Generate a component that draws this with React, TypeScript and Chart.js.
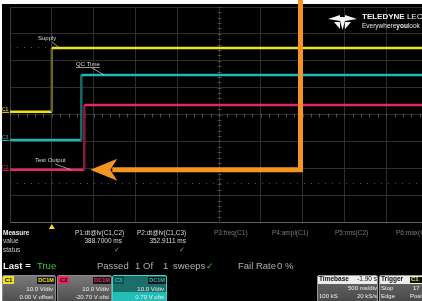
import React, { useEffect, useRef } from "react";
import { Chart, registerables } from "chart.js";
Chart.register(...registerables);

// ---- data (screen volts, seconds) ----
const seriesNames = ["Supply", "QC Time", "Test Output"];
const channelIds = ["C1", "C3", "C2"];
const traceColors = ["#f2e41c", "#1fb9b3", "#e8275e"];
const edgeColors = ["#6b6420", "#176a66", "#8a1a3c"];
const riseTimesS = [0, 0.3529, 0.3887];
const lowLevelsV = [1, -9.5, -20.6];
const highLevelsV = [24.7, 14.7, 3.5];
const timeStartS = -0.5;
const timeEndS = 4.428;
const secondsPerDiv = 0.5;
const voltsPerDiv = 10;
const screenMinV = -40;
const screenMaxV = 40;

const measureNames = ["P1:dt@lv(C1,C2)", "P2:dt@lv(C1,C3)", "P3:freq(C1)", "P4:ampl(C1)", "P5:rms(C2)", "P6:max(C1)"];
const measureValues = ["388.7000 ms", "352.9111 ms"];
const channelLabels = ["C1", "C2", "C3"];
const channelScales = ["10.0 V/div", "10.0 V/div", "10.0 V/div"];
const channelOffsets = ["0.00 V offset", "-20.70 V ofst", "0.70 V ofst"];

const FONT = '"Liberation Sans Narrow", "Liberation Sans", Arial, sans-serif';

const decorPlugin = {
  id: "decor",
  beforeDatasetsDraw(chart: any) {
    const { ctx, chartArea: a, scales } = chart;
    const xs = scales.x, ys = scales.y;
    ctx.save();
    // dotted rows
    ctx.strokeStyle = "#5a5a5a";
    ctx.lineWidth = 1;
    ctx.setLineDash([1, 6]);
    [47, 183].forEach((py) => {
      ctx.beginPath();
      ctx.moveTo(a.left, py + 0.5);
      ctx.lineTo(a.right, py + 0.5);
      ctx.stroke();
    });
    ctx.setLineDash([]);
    // center cross ticks
    const cx = Math.round(xs.getPixelForValue(timeStartS + 5 * secondsPerDiv)) + 0.5;
    const cy = Math.round(ys.getPixelForValue(0)) + 0.5;
    ctx.strokeStyle = "#4a4a4a";
    for (let v = screenMinV; v <= screenMaxV; v += voltsPerDiv / 5) {
      const py = Math.round(ys.getPixelForValue(v)) + 0.5;
      ctx.beginPath();
      ctx.moveTo(cx - 2, py);
      ctx.lineTo(cx + 2, py);
      ctx.stroke();
    }
    for (let t = timeStartS; t <= timeEndS; t += secondsPerDiv / 5) {
      const px = Math.round(xs.getPixelForValue(t)) + 0.5;
      ctx.beginPath();
      ctx.moveTo(px, cy - 2);
      ctx.lineTo(px, cy + 2);
      ctx.stroke();
    }
    ctx.restore();
  },
  afterDatasetsDraw(chart: any) {
    const { ctx, chartArea: a, scales } = chart;
    const xs = scales.x, ys = scales.y;
    ctx.save();
    // trigger marker
    const trigX = xs.getPixelForValue(riseTimesS[0]);
    ctx.fillStyle = traceColors[0];
    ctx.beginPath();
    ctx.moveTo(trigX, a.bottom + 2);
    ctx.lineTo(trigX + 3, a.bottom + 7);
    ctx.lineTo(trigX - 3, a.bottom + 7);
    ctx.closePath();
    ctx.fill();
    // channel markers at left
    channelIds.forEach((id, i) => {
      const py = ys.getPixelForValue(lowLevelsV[i]);
      ctx.fillStyle = traceColors[i];
      ctx.font = `5px ${FONT}`;
      ctx.textBaseline = "bottom";
      ctx.textAlign = "left";
      ctx.fillText(id, 2, py);
      ctx.fillRect(2, py, 7, 1);
    });
    // annotations
    ctx.font = `6px ${FONT}`;
    ctx.fillStyle = "#d8d8d8";
    ctx.strokeStyle = "#bcbcbc";
    ctx.lineWidth = 0.8;
    ctx.textBaseline = "middle";
    ctx.textAlign = "left";
    const ann = [
      { i: 0, tx: 38, ty: 38, lx0: 52, ly0: 42, dx: 8 },
      { i: 1, tx: 76, ty: 64, lx0: 92, ly0: 68, dx: 23 },
      { i: 2, tx: 35, ty: 160, lx0: 55, ly0: 164, dx: -13, low: true },
    ];
    ann.forEach((n: any) => {
      ctx.fillText(seriesNames[n.i], n.tx, n.ty);
      const endX = xs.getPixelForValue(riseTimesS[n.i]) + n.dx;
      const endY = ys.getPixelForValue(n.low ? lowLevelsV[n.i] : highLevelsV[n.i]);
      ctx.beginPath();
      ctx.moveTo(n.lx0, n.ly0);
      ctx.lineTo(endX, endY);
      ctx.stroke();
    });
    // underline QC Time
    const w = ctx.measureText(seriesNames[1]).width;
    ctx.beginPath();
    ctx.moveTo(76, 67.5);
    ctx.lineTo(76 + w, 67.5);
    ctx.stroke();

    // orange arrow
    const ay = ys.getPixelForValue(lowLevelsV[2]);
    const tipX = xs.getPixelForValue(riseTimesS[2]) + 6;
    const vx = 300.5;
    ctx.strokeStyle = "#f39424";
    ctx.fillStyle = "#f39424";
    ctx.lineWidth = 5;
    ctx.lineJoin = "miter";
    ctx.beginPath();
    ctx.moveTo(vx, -5);
    ctx.lineTo(vx, ay);
    ctx.lineTo(tipX + 22, ay);
    ctx.stroke();
    ctx.beginPath();
    ctx.moveTo(tipX, ay);
    ctx.lineTo(tipX + 27, ay - 11);
    ctx.lineTo(tipX + 20, ay);
    ctx.lineTo(tipX + 27, ay + 11);
    ctx.closePath();
    ctx.fill();

    // logo icon
    ctx.fillStyle = "#f4f4f4";
    const ox = 328, oy = 14;
    const tri = (pts: number[][]) => {
      ctx.beginPath();
      ctx.moveTo(ox + pts[0][0], oy + pts[0][1]);
      for (let k = 1; k < pts.length; k++) ctx.lineTo(ox + pts[k][0], oy + pts[k][1]);
      ctx.closePath();
      ctx.fill();
    };
    tri([[0, 5], [12, 1], [12, 7]]);
    tri([[29, 5], [17, 1], [17, 7]]);
    tri([[11, 3], [18, 3], [14.5, 16]]);
    tri([[6, 8], [12, 8], [12, 15]]);
    tri([[23, 8], [17, 8], [17, 15]]);
    ctx.restore();
  },
};

function Txt(p: any) {
  const s: any = {
    position: "absolute",
    top: p.y - p.size / 2,
    fontSize: p.size,
    lineHeight: `${p.size}px`,
    height: p.size,
    color: p.color || "#ddd",
    fontWeight: p.bold ? "bold" : "normal",
    whiteSpace: "nowrap",
    fontFamily: p.family || FONT,
  };
  if (p.right !== undefined) s.right = 422 - p.right;
  else s.left = p.x;
  return <div style={s}>{p.children}</div>;
}

function ChannelBox(p: any) {
  const { left, width, i, active } = p;
  const colors = ["#f2e41c", "#e8275e", "#1fb9b3"];
  return (
    <div
      style={{
        position: "absolute",
        left,
        top: 275,
        width,
        height: 27,
        borderRadius: 2,
        border: active ? "1px solid #3fd6cf" : "1px solid #8a8a8a",
        boxSizing: "border-box",
        background: active
          ? "linear-gradient(#1c6e6b 0%, #1c6e6b 65%, #22bdb5 66%, #22bdb5 100%)"
          : "linear-gradient(#7a7a7a, #4e4e4e)",
        overflow: "hidden",
      }}
    >
      <div
        style={{
          position: "absolute", left: 0, top: 0, width: 11, height: 8,
          background: active ? "#0f4f4c" : colors[i], color: active ? colors[i] : "#000",
          fontSize: 6, lineHeight: "8px", fontWeight: "bold", fontFamily: FONT, textAlign: "center",
        }}
      >
        {channelLabels[i]}
      </div>
      <div
        style={{
          position: "absolute", right: 0, top: 1, width: 18, height: 7,
          background: "#151515", color: colors[i],
          fontSize: 5.5, lineHeight: "7px", fontWeight: "bold", fontFamily: FONT, textAlign: "center",
        }}
      >
        DC1M
      </div>
      <div style={{ position: "absolute", right: 2, top: 10, fontSize: 6, lineHeight: "6px", color: "#f0f0f0", fontFamily: FONT, whiteSpace: "nowrap" }}>
        {channelScales[i]}
      </div>
      <div style={{ position: "absolute", right: 2, top: 18, fontSize: 6, lineHeight: "6px", color: "#f0f0f0", fontFamily: FONT, whiteSpace: "nowrap" }}>
        {channelOffsets[i]}
      </div>
    </div>
  );
}

export default function App() {
  const ref = useRef<HTMLCanvasElement>(null);
  useEffect(() => {
    document.body.style.margin = "0";
    const datasets = seriesNames.map((name, i) => ({
      label: name,
      data: [
        { x: timeStartS, y: lowLevelsV[i] },
        { x: riseTimesS[i], y: lowLevelsV[i] },
        { x: riseTimesS[i], y: highLevelsV[i] },
        { x: timeEndS, y: highLevelsV[i] },
      ],
      borderColor: traceColors[i],
      borderWidth: 2.5,
      pointRadius: 0,
      tension: 0,
      segment: {
        borderColor: (c: any) => (c.p0.parsed.x === c.p1.parsed.x ? edgeColors[i] : traceColors[i]),
      },
    }));
    const chart = new Chart(ref.current!, {
      type: "line",
      data: { datasets },
      options: {
        responsive: false,
        animation: false,
        events: [],
        layout: { padding: { left: 10, top: 7, right: 0, bottom: 79 } },
        plugins: { legend: { display: false }, tooltip: { enabled: false }, title: { display: false } },
        scales: {
          x: {
            type: "linear",
            min: timeStartS,
            max: timeEndS,
            afterFit: (s: any) => { s.height = 0; },
            ticks: { display: false, stepSize: secondsPerDiv, includeBounds: false },
            grid: { color: "#2f2f2f", drawTicks: false, lineWidth: 1 },
            border: { display: true, color: "#606060" },
          },
          y: {
            type: "linear",
            min: screenMinV,
            max: screenMaxV,
            afterFit: (s: any) => { s.width = 0; },
            ticks: { display: false, stepSize: voltsPerDiv },
            grid: { color: "#2f2f2f", drawTicks: false, lineWidth: 1 },
            border: { display: true, color: "#3a3a3a" },
          },
        },
      } as any,
      plugins: [decorPlugin],
    });
    return () => chart.destroy();
  }, []);

  return (
    <div style={{ position: "fixed", left: 0, top: 0, width: 422, height: 301, background: "#fff", overflow: "hidden" }}>
      <div style={{ position: "absolute", left: 2, top: 4, width: 420, height: 297, background: "#000" }} />
      <canvas ref={ref} width={422} height={301} style={{ position: "absolute", left: 0, top: 0, width: 422, height: 301 }} />
      {/* logo text */}
      <Txt x={362} y={17} size={8} bold color="#f4f4f4">TELEDYNE <span style={{ fontWeight: "normal" }}>LECROY</span></Txt>
      <Txt x={362} y={26} size={6.5} color="#e8e8e8">Everywhere<b>you</b>look</Txt>
      {/* measure table */}
      <Txt x={3} y={233} size={6.5} bold color="#eee">Measure</Txt>
      <Txt x={3} y={241} size={6.5} color="#ccc">value</Txt>
      <Txt x={3} y={250} size={6.5} color="#ccc">status</Txt>
      <Txt x={75} y={233} size={6.5} color="#ddd">{measureNames[0]}</Txt>
      <Txt x={137} y={233} size={6.5} color="#ddd">{measureNames[1]}</Txt>
      <Txt x={214} y={233} size={6.5} color="#7a7a7a">{measureNames[2]}</Txt>
      <Txt x={272} y={233} size={6.5} color="#7a7a7a">{measureNames[3]}</Txt>
      <Txt x={335} y={233} size={6.5} color="#7a7a7a">{measureNames[4]}</Txt>
      <Txt x={396} y={233} size={6.5} color="#7a7a7a">{measureNames[5]}</Txt>
      <Txt right={122} y={241} size={6.5} color="#ddd">{measureValues[0]}</Txt>
      <Txt right={186} y={241} size={6.5} color="#ddd">{measureValues[1]}</Txt>
      <Txt x={114} y={250} size={7} color="#3cc43c" family="DejaVu Sans">✓</Txt>
      <Txt x={179} y={250} size={7} color="#3cc43c" family="DejaVu Sans">✓</Txt>
      {/* pass/fail row */}
      <Txt x={3} y={266} size={9.5} bold color="#f2f2f2">Last =</Txt>
      <Txt x={37} y={266} size={9.5} color="#35c435">True</Txt>
      <Txt x={97} y={266} size={9.5} color="#b0b0b0">Passed</Txt>
      <Txt x={135} y={266} size={9.5} color="#b0b0b0">1</Txt>
      <Txt x={143} y={266} size={9.5} color="#b0b0b0">Of</Txt>
      <Txt x={163} y={266} size={9.5} color="#b0b0b0">1</Txt>
      <Txt x={173} y={266} size={9.5} color="#b0b0b0">sweeps</Txt>
      <Txt x={206} y={266} size={9} color="#3cc43c" family="DejaVu Sans">✓</Txt>
      <Txt x={238} y={266} size={9.5} color="#b0b0b0">Fail Rate</Txt>
      <Txt x={277} y={266} size={9.5} color="#b0b0b0">0 %</Txt>
      {/* channel boxes */}
      <ChannelBox left={2} width={54} i={0} />
      <ChannelBox left={57} width={55} i={1} />
      <ChannelBox left={112} width={55} i={2} active />
      {/* timebase */}
      <div style={{ position: "absolute", left: 317, top: 275, width: 61, height: 27, background: "linear-gradient(#6a6a6a,#4a4a4a)", border: "1px solid #999", boxSizing: "border-box", borderRadius: 2, overflow: "hidden" }}>
        <div style={{ position: "absolute", left: 0, top: 0, right: 0, height: 8, background: "#ececec" }} />
      </div>
      <Txt x={319} y={279} size={6.5} bold color="#111">Timebase</Txt>
      <Txt right={377} y={279} size={6.5} color="#111">-1.90 s</Txt>
      <Txt right={377} y={288} size={6} color="#f0f0f0">500 ms/div</Txt>
      <Txt x={319} y={296} size={6} color="#f0f0f0">100 kS</Txt>
      <Txt right={377} y={296} size={6} color="#f0f0f0">20 kS/s</Txt>
      {/* trigger */}
      <div style={{ position: "absolute", left: 379, top: 275, width: 50, height: 27, background: "linear-gradient(#6a6a6a,#4a4a4a)", border: "1px solid #999", boxSizing: "border-box", borderRadius: 2, overflow: "hidden" }}>
        <div style={{ position: "absolute", left: 0, top: 0, right: 0, height: 8, background: "#ececec" }} />
        <div style={{ position: "absolute", left: 30, top: 1, width: 14, height: 6, background: "#111" }} />
      </div>
      <Txt x={381} y={279} size={6.5} bold color="#111">Trigger</Txt>
      <Txt x={411} y={279} size={6} bold color="#f2e41c">C1</Txt>
      <Txt x={381} y={288} size={6} color="#f0f0f0">Stop</Txt>
      <Txt x={413} y={288} size={6} color="#f0f0f0">17</Txt>
      <Txt x={381} y={296} size={6} color="#f0f0f0">Edge</Txt>
      <Txt x={410} y={296} size={6} color="#f0f0f0">Positive</Txt>
    </div>
  );
}
